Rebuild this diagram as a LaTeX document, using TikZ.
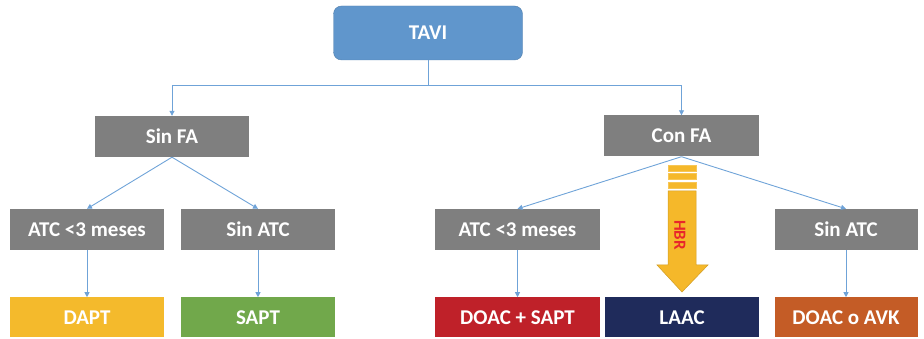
\documentclass[tikz,border=0pt]{standalone}
\usepackage{fontspec}
\setmainfont{Carlito}
\usetikzlibrary{arrows.meta,positioning}
\definecolor{taviblue}{HTML}{6096CC}
\definecolor{boxgray}{HTML}{7F7F7F}
\definecolor{linkblue}{HTML}{6FA3D8}
\definecolor{daptyellow}{HTML}{F4BA2C}
\definecolor{saptgreen}{HTML}{71A84B}
\definecolor{doacred}{HTML}{BF2129}
\definecolor{laacnavy}{HTML}{1F2B5B}
\definecolor{avkorange}{HTML}{C45C26}
\definecolor{hbrgold}{HTML}{F5B82A}
\definecolor{hbrred}{HTML}{E8262A}
\tikzstyle{block} = [rectangle, fill=boxgray, text=white, inner sep=0pt,
                     minimum height=41pt, minimum width=154pt,
                     font=\fontsize{21}{25}\selectfont\bfseries]
\tikzstyle{leaf} = [block, minimum height=40pt]
\tikzstyle{link} = [linkblue, line width=0.9pt]
\tikzstyle{arrow} = [link, -{Triangle[length=5pt,width=5pt]}]

\begin{document}
\begin{tikzpicture}[x=1pt,y=-1pt]
    \useasboundingbox (0,0) rectangle (924,339);
    \node [block, fill=taviblue, draw=taviblue!85!black, line width=0.4pt,
           rounded corners=8pt, minimum width=189pt, minimum height=54pt] (tavi) at (428,33) {TAVI};
    \node [block] (sinfa) at (172,136.5) {Sin FA};
    \node [block, minimum width=155pt] (confa) at (681.5,136) {Con FA};
    \node [block] (atcL) at (87,229.5) {ATC <3 meses};
    \node [block] (sinatcL) at (258,229.5) {Sin ATC};
    \node [block, minimum width=165pt] (atcR) at (517.5,229.5) {ATC <3 meses};
    \node [block, minimum width=143pt] (sinatcR) at (846,229.5) {Sin ATC};
    \node [leaf, fill=daptyellow, below=47pt of atcL.south, anchor=north] (dapt) {DAPT};
    \node [leaf, fill=saptgreen, below=47pt of sinatcL.south, anchor=north] (sapt) {SAPT};
    \node [leaf, fill=doacred, minimum width=165pt, below=47pt of atcR.south, anchor=north] (doacsapt) {DOAC + SAPT};
    \node [leaf, fill=laacnavy, minimum width=154pt, anchor=north] (laac) at (682,297) {LAAC};
    \node [leaf, fill=avkorange, minimum width=143pt, below=47pt of sinatcR.south, anchor=north] (doacavk) {DOAC o AVK};

    % tree from TAVI
    \coordinate (split) at ([yshift=-25pt]tavi.south);
    \draw [arrow] (tavi.south) -- (split) -| (sinfa.north);
    \draw [arrow] (split) -| (confa.north);
    \draw [arrow] (sinfa.south) -- (atcL.north);
    \draw [arrow] (sinfa.south) -- (sinatcL.north);
    \draw [arrow] (confa.south) -- (atcR.north);
    \draw [arrow] (confa.south) -- (sinatcR.north);
    \draw [arrow] (atcL) -- (dapt);
    \draw [arrow] (sinatcL) -- (sapt);
    \draw [arrow] (atcR) -- (doacsapt);
    \draw [arrow] (sinatcR) -- (doacavk);

    % HBR arrow
    \foreach \y in {165,173.5,182}
      \fill [hbrgold, draw=hbrgold!80!white, line width=0.6pt] (668,\y) rectangle (696,\y+6);
    \fill [hbrgold, draw=hbrgold!85!black, line width=0.5pt]
      (668,191) -- (696,191) -- (696,265) -- (708,265) -- (682,292)
      -- (657,265) -- (668,265) -- cycle;
    \node [rotate=-90, text=hbrred, font=\fontsize{17}{20}\selectfont\bfseries] (hbr) at (680,235) {HBR};
\end{tikzpicture}
\end{document}
